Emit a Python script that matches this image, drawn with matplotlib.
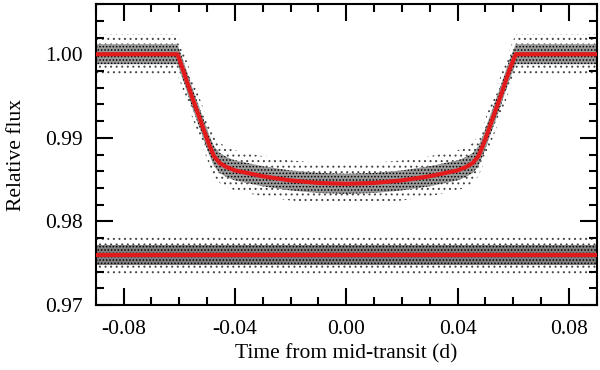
import numpy as np
import matplotlib.pyplot as plt

plt.rc('font', family='Liberation Serif', size=15.5)
plt.rc('hatch', color='black', linewidth=0.7)

# transit model (time in d, relative flux)
t_model = [-0.090, -0.0606, -0.0585, -0.0555, -0.0525, -0.0495, -0.0475, -0.0455,
           -0.0430, -0.0400, -0.0300, -0.0200, -0.0100, 0.0000,
           0.0100, 0.0200, 0.0300, 0.0400, 0.0430, 0.0455, 0.0475, 0.0495,
           0.0525, 0.0555, 0.0585, 0.0609, 0.090]
f_model = [1.0000, 1.0000, 0.9980, 0.9950, 0.9922, 0.9894, 0.9878, 0.9870,
           0.9865, 0.9861, 0.9854, 0.9849, 0.9846, 0.9845,
           0.9846, 0.9849, 0.9854, 0.9861, 0.9865, 0.9870, 0.9878, 0.9894,
           0.9922, 0.9950, 0.9980, 1.0000, 1.0000]

# residual series, shifted down
t_resid = [-0.090, 0.090]
f_resid = [0.9760, 0.9760]

# spread of the data points around each curve (half widths, relative flux)
dense_halfwidth = 0.0012
sparse_halfwidth = 0.0024

t_model = np.array(t_model)
f_model = np.array(f_model)
t_resid = np.array(t_resid)
f_resid = np.array(f_resid)

fig = plt.figure(figsize=(6, 3.7), dpi=100)
ax = fig.add_axes([0.1595, 0.1757, 0.835, 0.8133])

for t, f, shade in [(t_model, f_model, '#9a9a9a'), (t_resid, f_resid, '#808080')]:
    ax.fill_between(t, f - sparse_halfwidth, f + sparse_halfwidth,
                    facecolor='none', edgecolor='#444444', hatch='...', linewidth=0)
    ax.fill_between(t, f - dense_halfwidth, f + dense_halfwidth,
                    facecolor=shade, edgecolor='black', hatch='.....', linewidth=0)
    ax.plot(t, f, color='#e31a1c', lw=3, zorder=5)

ax.set_xlim(-0.09, 0.09)
ax.set_ylim(0.97, 1.006)
ax.set_xticks([-0.08, -0.04, 0.00, 0.04, 0.08])
ax.set_xticklabels(['-0.08', '-0.04', '0.00', '0.04', '0.08'])
ax.set_xticks(np.arange(-0.09, 0.0901, 0.01), minor=True)
ax.set_yticks([0.97, 0.98, 0.99, 1.00])
ax.set_yticklabels(['0.97', '0.98', '0.99', '1.00'])
ax.set_yticks(np.arange(0.970, 1.0061, 0.002), minor=True)

ax.tick_params(which='both', direction='in', top=True, right=True, width=1.5)
ax.tick_params(axis='x', pad=10.5)
ax.tick_params(axis='y', pad=9)
ax.tick_params(which='major', length=12)
ax.tick_params(which='minor', length=6)
for s in ax.spines.values():
    s.set_linewidth(1.5)

ax.set_xlabel('Time from mid-transit (d)')
ax.set_ylabel('Relative flux')
ax.xaxis.set_label_coords(0.5, -0.13)
ax.yaxis.set_label_coords(-0.14, 0.5)

plt.savefig('out.png', dpi=100)
